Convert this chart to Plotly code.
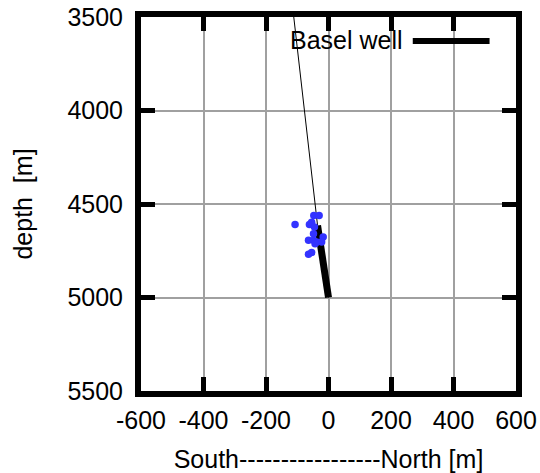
import plotly.graph_objects as go

# Well trajectory (thin line) and open-hole section (thick line)
well_x = [-118, -35, 0]
well_depth = [3400, 4615, 5000]
open_x = [-35, 0]
open_depth = [4615, 5000]

# Seismic events (blue points)
ev_x = [-47, -30, -107, -61, -54, -45, -48, -64, -48, -38, -17, -22, -64, -54, -43]
ev_depth = [4561, 4561, 4609, 4609, 4597, 4623, 4659, 4694, 4694, 4703, 4677, 4703, 4769, 4760, 4712]

x_ticks = [-600, -400, -200, 0, 200, 400, 600]
y_ticks = [3500, 4000, 4500, 5000, 5500]

FONT = "Liberation Sans, Arial, sans-serif"
FS = 25

fig = go.Figure()
fig.add_trace(go.Scatter(x=well_x, y=well_depth, mode="lines",
                         line=dict(color="black", width=1), showlegend=False))
fig.add_trace(go.Scatter(x=open_x, y=open_depth, mode="lines",
                         line=dict(color="black", width=7), name="Basel well",
                         showlegend=False))
fig.add_trace(go.Scatter(x=ev_x, y=ev_depth, mode="markers",
                         marker=dict(color="#3333ff", size=7.5), showlegend=False))

# legend box (opaque over gridlines), text and sample line
fig.add_shape(type="rect", xref="paper", yref="paper", x0=0.371, x1=1, y0=0.904, y1=1,
              fillcolor="white", line=dict(width=0), layer="between")
fig.add_annotation(xref="paper", yref="paper", x=0.703, y=0.9386, xanchor="right",
                   yanchor="middle", text="Basel well", showarrow=False,
                   font=dict(family=FONT, size=FS, color="black"))
fig.add_shape(type="line", xref="paper", yref="paper", x0=0.7247, x1=0.9295,
              y0=0.936, y1=0.936, line=dict(color="black", width=6))

axis_common = dict(showline=True, linecolor="black", linewidth=6, mirror="ticks",
                   ticks="inside", ticklen=14, tickwidth=5, tickcolor="black",
                   showgrid=True, gridcolor="#a0a0a0", gridwidth=2, zeroline=False,
                   automargin=False,
                   tickfont=dict(family=FONT, size=FS, color="black"))

fig.update_xaxes(range=[-600, 600], tickvals=x_ticks, ticktext=[str(v) for v in x_ticks],
                 ticklabelstandoff=2,
                 title=dict(text="South-----------------North [m]",
                            font=dict(family=FONT, size=FS, color="black"), standoff=21),
                 **axis_common)
fig.update_yaxes(range=[5500, 3500], tickvals=y_ticks, ticktext=[str(v) for v in y_ticks],
                 ticklabelstandoff=7,
                 title=dict(text="depth\u00a0 [m]",
                            font=dict(family=FONT, size=FS, color="black"), standoff=30),
                 **axis_common)

fig.update_layout(width=540, height=473, autosize=False,
                  margin=dict(l=140.5, r=23.5, t=17, b=81.5, pad=0),
                  plot_bgcolor="white", paper_bgcolor="white", showlegend=False)

fig.write_html("out.html")
